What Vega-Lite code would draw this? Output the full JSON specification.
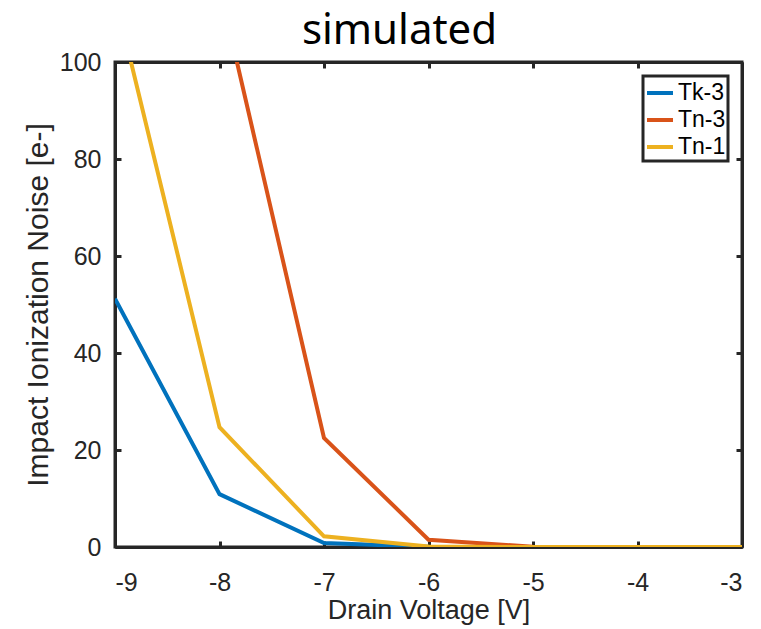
{
  "$schema": "https://vega.github.io/schema/vega-lite/v6.json",
  "width": 627,
  "height": 485,
  "autosize": {"type": "none"},
  "padding": {"left": 115, "top": 62, "right": 19, "bottom": 82},
  "background": "white",
  "title": {"text": "simulated", "font": "Noto Sans", "fontSize": 42, "fontWeight": "normal", "color": "#000000", "offset": -3, "anchor": "middle", "dx": -29},
  "config": {
    "view": {"stroke": "#262626", "strokeWidth": 3},
    "axis": {"labelFont": "Liberation Sans", "titleFont": "Liberation Sans", "labelFontSize": 25, "titleFontSize": 27, "titleFontWeight": "normal", "labelColor": "#262626", "titleColor": "#262626", "domainColor": "#262626", "domainWidth": 3, "tickColor": "#262626", "tickWidth": 3, "grid": false},
    "legend": {"strokeColor": "#262626", "fillColor": "white"}
  },
  "data": {"values": [
    {"v": -9, "noise": 51.2, "s": "Tk-3"},
    {"v": -8, "noise": 10.9, "s": "Tk-3"},
    {"v": -7, "noise": 0.8, "s": "Tk-3"},
    {"v": -6, "noise": 0.05, "s": "Tk-3"},
    {"v": -5, "noise": 0, "s": "Tk-3"},
    {"v": -4, "noise": 0, "s": "Tk-3"},
    {"v": -3, "noise": 0, "s": "Tk-3"},
    {"v": -9, "noise": 600, "s": "Tn-3"},
    {"v": -8, "noise": 115.5, "s": "Tn-3"},
    {"v": -7, "noise": 22.5, "s": "Tn-3"},
    {"v": -6, "noise": 1.5, "s": "Tn-3"},
    {"v": -5, "noise": 0.05, "s": "Tn-3"},
    {"v": -4, "noise": 0, "s": "Tn-3"},
    {"v": -3, "noise": 0, "s": "Tn-3"},
    {"v": -9, "noise": 113.6, "s": "Tn-1"},
    {"v": -8, "noise": 24.7, "s": "Tn-1"},
    {"v": -7, "noise": 2.2, "s": "Tn-1"},
    {"v": -6, "noise": 0.1, "s": "Tn-1"},
    {"v": -5, "noise": 0, "s": "Tn-1"},
    {"v": -4, "noise": 0, "s": "Tn-1"},
    {"v": -3, "noise": 0, "s": "Tn-1"}
  ]},
  "layer": [
    {
      "mark": {"type": "line", "strokeWidth": 4, "clip": true},
      "encoding": {
        "x": {"field": "v", "type": "quantitative", "scale": {"domain": [-9, -3], "nice": false, "zero": false}, "axis": {"title": "Drain Voltage [V]", "values": [-9, -8, -7, -6, -5, -4, -3], "labelExpr": "toString(datum.value)", "tickSize": -6, "labelPadding": 29, "titlePadding": 2}},
        "y": {"field": "noise", "type": "quantitative", "scale": {"domain": [0, 100], "nice": false}, "axis": {"title": "Impact Ionization Noise [e-]", "titleFontSize": 30, "values": [0, 20, 40, 60, 80, 100], "tickSize": -6, "labelPadding": 20, "titlePadding": 6}},
        "color": {"field": "s", "type": "nominal", "sort": ["Tk-3", "Tn-3", "Tn-1"], "scale": {"domain": ["Tk-3", "Tn-3", "Tn-1"], "range": ["#0072BD", "#D95319", "#EDB120"]},
          "legend": {"title": null, "orient": "top-right", "offset": 14, "symbolType": "stroke", "symbolStrokeWidth": 4, "symbolSize": 676, "labelFont": "Liberation Sans", "labelFontSize": 23, "labelColor": "#000000", "padding": 2, "rowPadding": 0, "labelOffset": 3,
            "encode": {"legend": {"update": {"strokeWidth": {"value": 3}}}}}}
      }
    },
    {
      "mark": {"type": "line", "opacity": 0, "clip": true},
      "encoding": {
        "x": {"field": "v", "type": "quantitative", "scale": {"domain": [-9, -3], "nice": false, "zero": false}, "axis": {"orient": "top", "title": null, "labels": false, "values": [-9, -8, -7, -6, -5, -4, -3], "tickSize": -6}},
        "y": {"field": "noise", "type": "quantitative", "scale": {"domain": [0, 100], "nice": false}, "axis": {"orient": "right", "title": null, "labels": false, "values": [0, 20, 40, 60, 80, 100], "tickSize": -6}}
      }
    }
  ],
  "resolve": {"axis": {"x": "independent", "y": "independent"}}
}
